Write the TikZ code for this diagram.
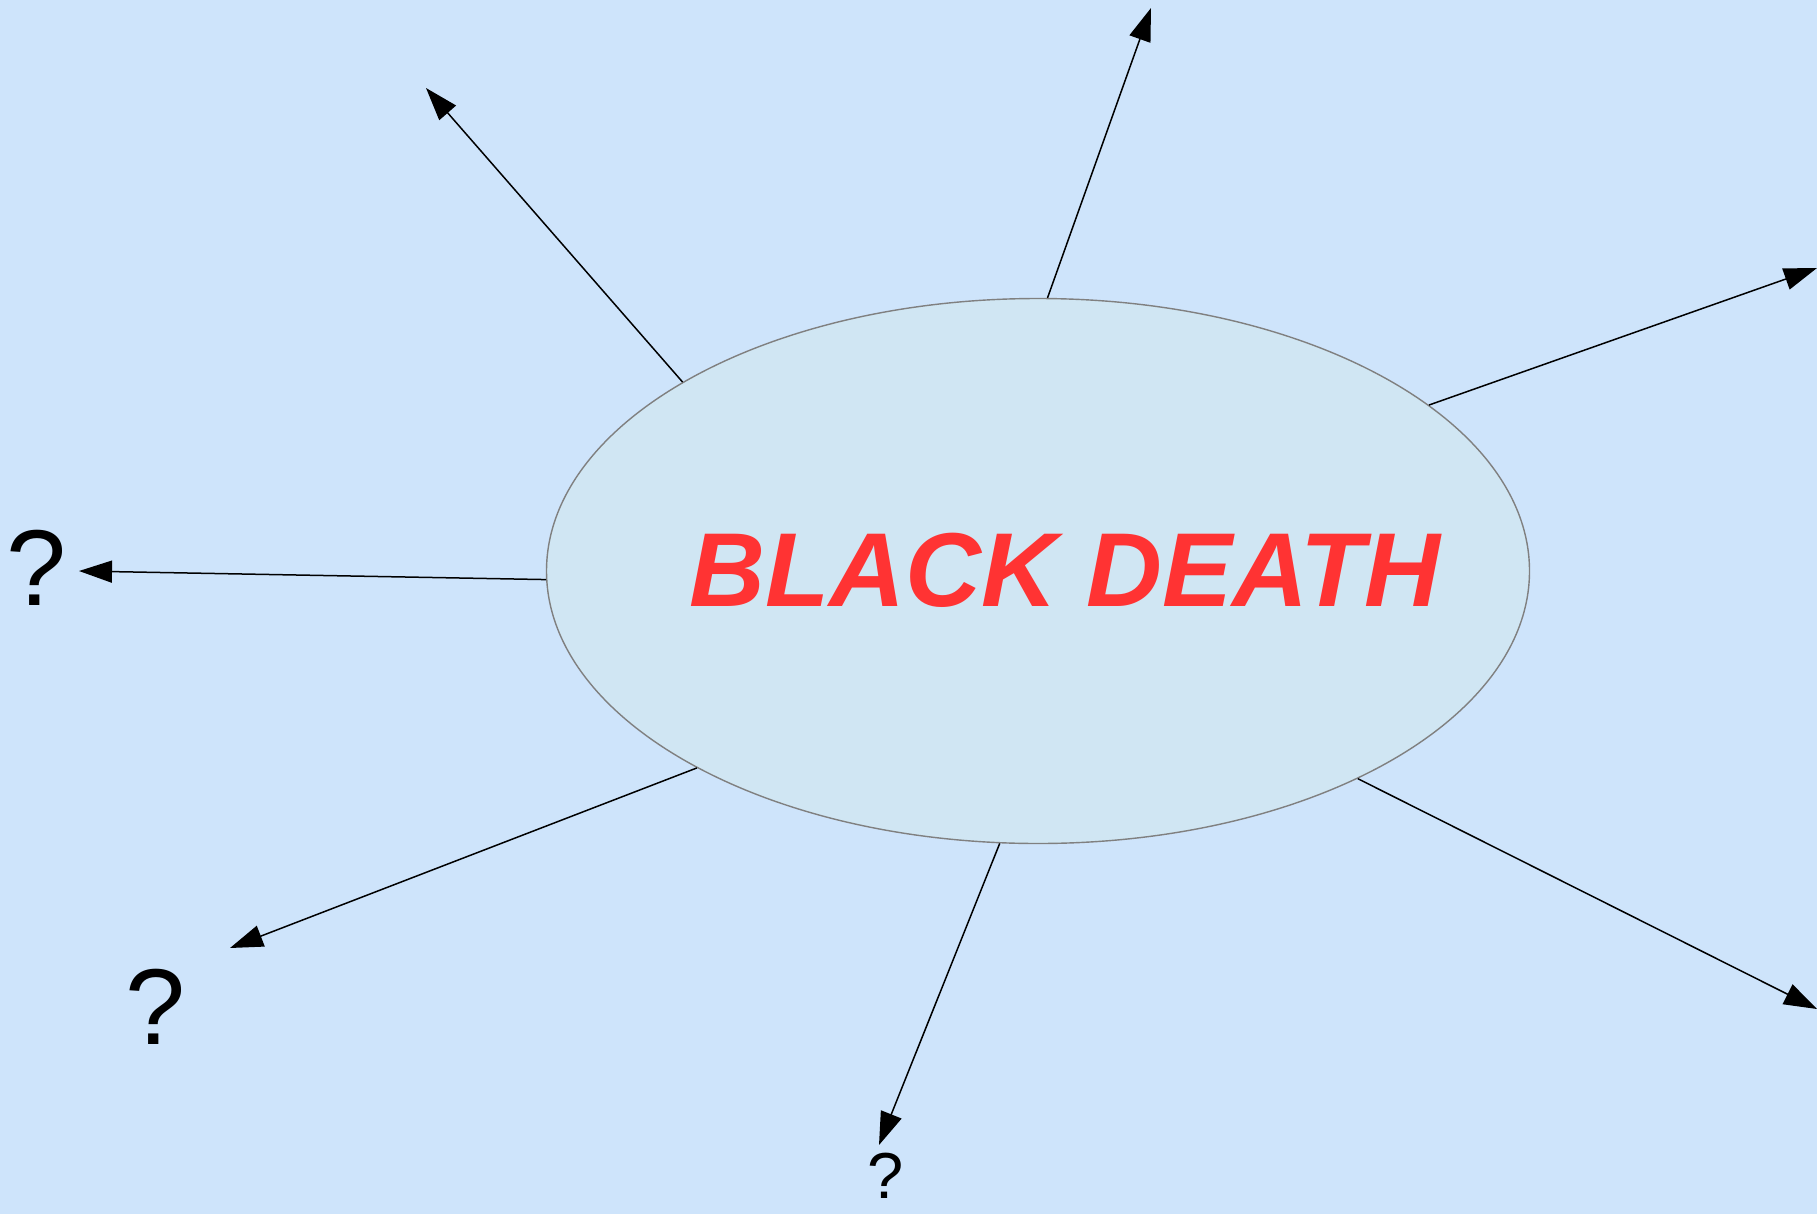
\documentclass[tikz,border=0pt]{standalone}
\usepackage{fontspec}
\setmainfont{Liberation Sans}
\usetikzlibrary{arrows.meta,shapes.geometric}
\definecolor{sky}{RGB}{206,228,251}
\definecolor{bubble}{RGB}{208,230,243}
\definecolor{plaguered}{RGB}{255,51,51}
\begin{document}
\begin{tikzpicture}[x=0.1mm,y=-0.1mm,
  spoke/.style={line width=0.15mm,-{Triangle[length=3.3mm,width=2.2mm]}},
  query/.style={inner sep=0pt,font=\fontsize{30.7}{36}\selectfont}]
\fill[sky] (0,0) rectangle (1817,1214);
\useasboundingbox (0,0) rectangle (1817,1214);
\node[ellipse,draw=gray,fill=bubble,line width=0.4pt,inner sep=0pt,minimum width=98.3mm,minimum height=54.5mm] (plague) at (1038,571) {};
\node[text=plaguered,font=\bfseries\itshape\fontsize{29.9}{34}\selectfont] (title) at (1065,570) {BLACK DEATH};
\node[query] (qw) at (37,568) {?};
\node[query] (qsw) at (156,1007) {?};
\node[query,font=\fontsize{18.5}{22}\selectfont] (qs) at (886,1176) {?};
\coordinate (nw) at (426,88);
\coordinate (n) at (1151,8);
\coordinate (ne) at (1817,268);
\coordinate (w) at (79,571);
\coordinate (sw) at (230,948);
\coordinate (s) at (879,1145);
\coordinate (se) at (1817,1009);
\draw[spoke] (plague.152.9) -- (nw);
\draw[spoke] (plague.88.3) -- (n);
\draw[spoke] (plague.23.4) -- (ne);
\draw[spoke] (plague.181.7) -- (w);
\draw[spoke] (plague.210.1) -- (sw);
\draw[spoke] (plague.262.1) -- (s);
\draw[spoke] (plague.327) -- (se);
\end{tikzpicture}
\end{document}
